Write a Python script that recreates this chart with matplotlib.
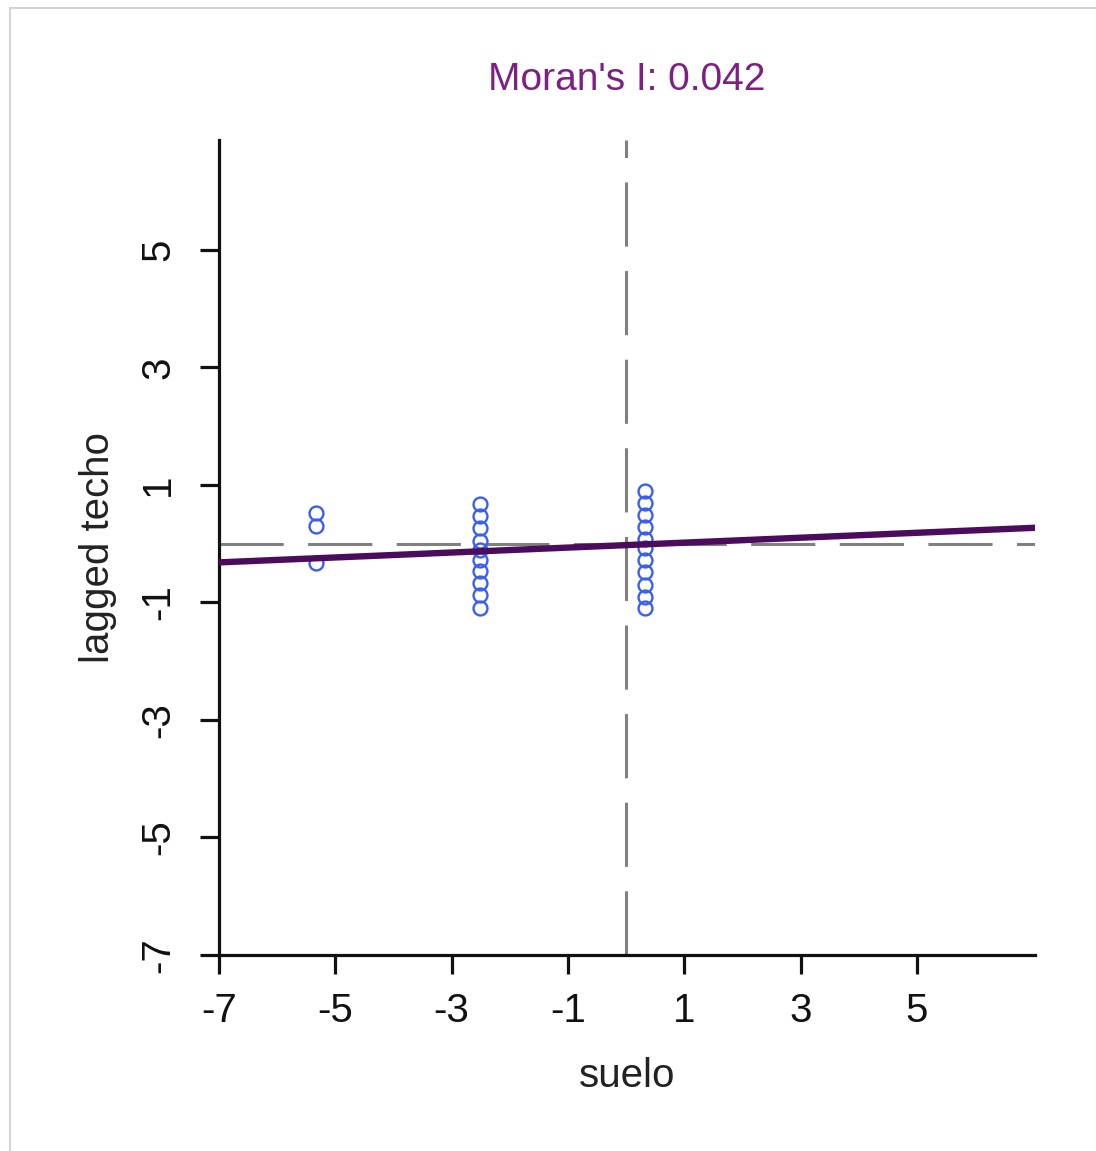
import matplotlib.pyplot as plt
from matplotlib.patches import Rectangle

plt.rcParams['font.family'] = ['Liberation Sans', 'DejaVu Sans']

# Moran scatterplot: suelo vs lagged techo
suelo_a = -5.34
techo_a = [0.52, 0.30, -0.33]
suelo_b = -2.51
techo_b = [0.68, 0.47, 0.26, 0.05, -0.10, -0.28, -0.47, -0.67, -0.88, -1.10]
suelo_c = 0.33
techo_c = [0.90, 0.70, 0.49, 0.28, 0.08, -0.08, -0.28, -0.49, -0.70, -0.90, -1.10]

moran_i = 0.042
intercept = -0.025
ticks = [-7, -5, -3, -1, 1, 3, 5]

x = [suelo_a] * len(techo_a) + [suelo_b] * len(techo_b) + [suelo_c] * len(techo_c)
y = techo_a + techo_b + techo_c

fig = plt.figure(figsize=(10.96, 11.51), dpi=100)
ax = fig.add_axes([0.1998, 0.1703, 0.7445, 0.7081])

xmin, xmax = -7, 7.03
ymin, ymax = -7, 6.87

# dashed reference lines at the means
ax.axvline(0, color='#808080', lw=2.2, dashes=(21, 8), zorder=1)
ax.axhline(0, color='#808080', lw=2.2, dashes=(21, 8), zorder=1)

ax.plot(x, y, 'o', mfc='none', mec='#3a5ef0', ms=10, mew=1.7, zorder=2)

lx = [xmin, xmax]
ly = [intercept + moran_i * v for v in lx]
ax.plot(lx, ly, color='#4b0c5e', lw=4.6, zorder=3)

ax.set_xlim(xmin, xmax)
ax.set_ylim(ymin, ymax)
ax.set_xticks(ticks)
ax.set_yticks(ticks)
ax.set_xticklabels([str(t) for t in ticks])
ax.set_yticklabels([str(t) for t in ticks], rotation=90, va='center')
ax.tick_params(length=14, width=2.3, labelsize=29, colors='#111111')
ax.tick_params(axis='x', pad=13)
ax.tick_params(axis='y', pad=16)

for s in ['top', 'right']:
    ax.spines[s].set_visible(False)
for s in ['left', 'bottom']:
    ax.spines[s].set_linewidth(2.3)
    ax.spines[s].set_color('#111111')

ax.set_xlabel('suelo', fontsize=29, color='#222222')
ax.set_ylabel('lagged techo', fontsize=29, color='#222222')
ax.xaxis.set_label_coords(0.5, -0.125)
ax.yaxis.set_label_coords(-0.125, 0.5)

ax.text(0.5, 1.0736, "Moran's I: 0.042", transform=ax.transAxes,
        ha='center', va='center', fontsize=28, color='#7d1f84')

# light screenshot border
fig.patches.append(Rectangle((10 / 1096, -0.01), 1.1, 1 - 8 / 1151 + 0.01,
                             transform=fig.transFigure, fill=False,
                             edgecolor='#d4d4d4', lw=1.5))

fig.savefig('out.png', dpi=100)
